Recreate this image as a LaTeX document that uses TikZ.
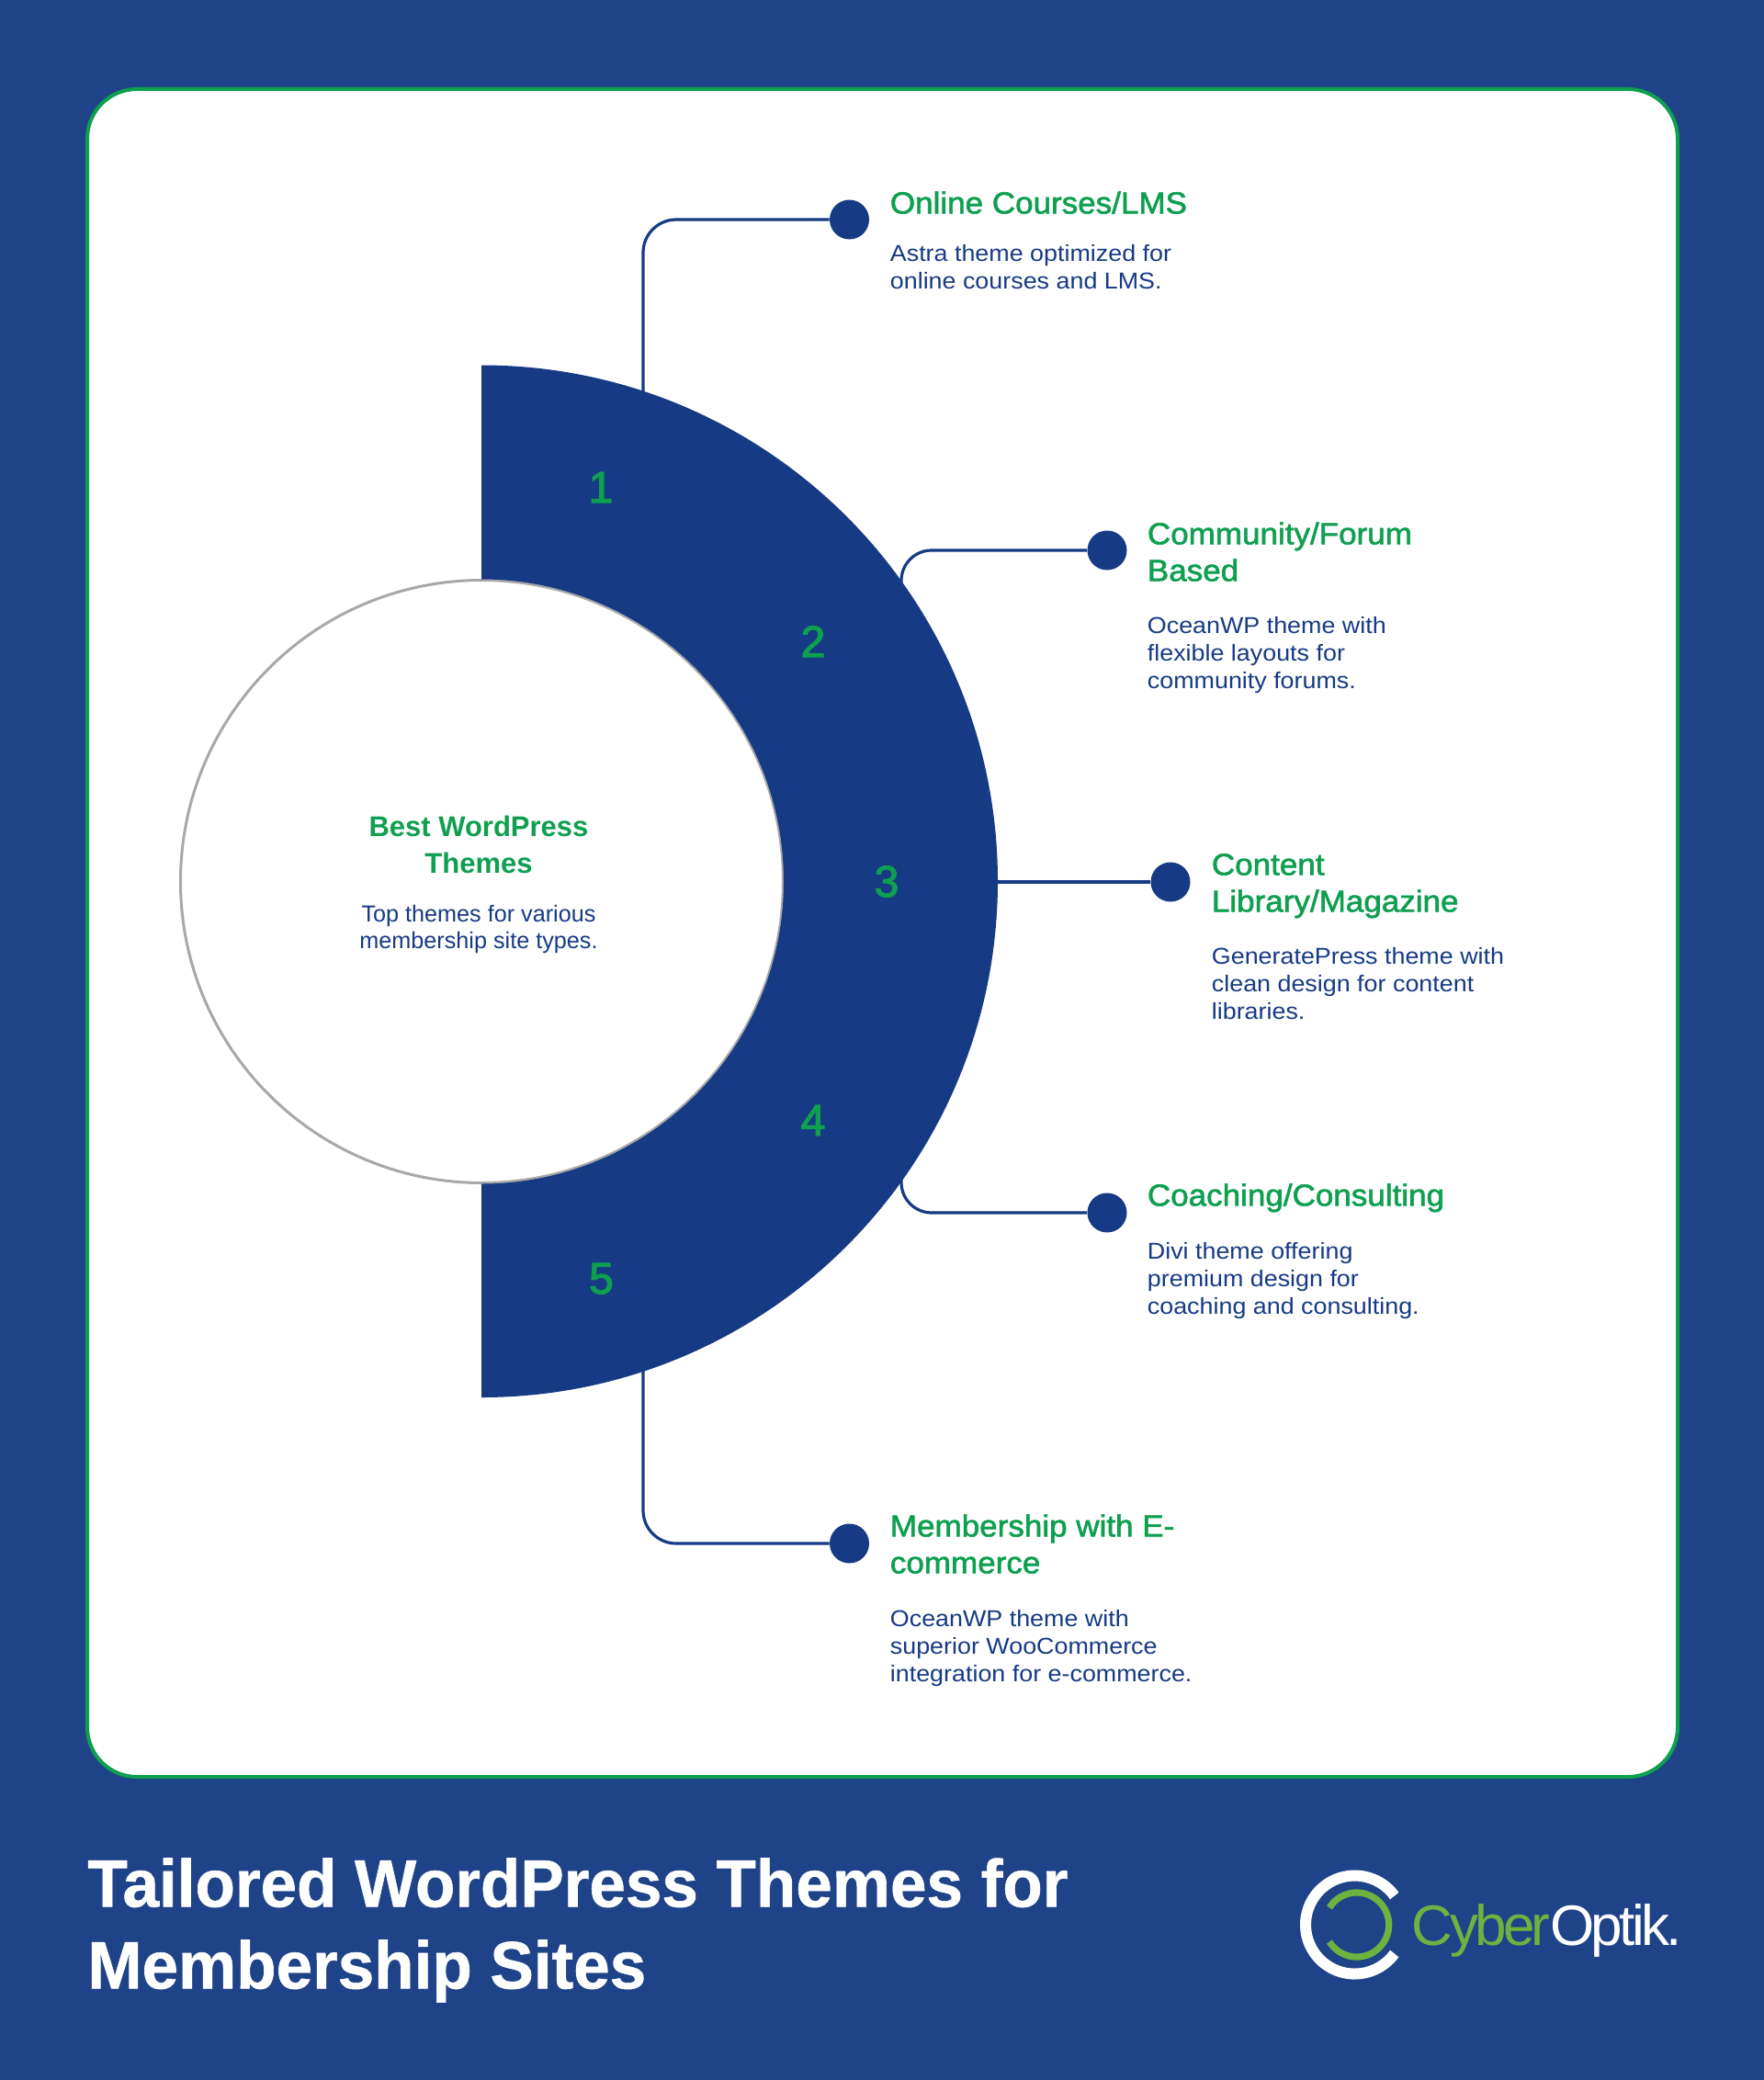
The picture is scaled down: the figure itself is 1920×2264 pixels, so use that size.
\documentclass[tikz,border=0pt]{standalone}
\usepackage{fontspec}
\usetikzlibrary{calc}
\setmainfont{Liberation Sans}
\newfontfamily\headfont[FakeBold=1.8,FakeStretch=1.055]{Liberation Sans}
\newfontfamily\numfont[FakeBold=2.5]{Liberation Sans}
\newfontfamily\descfont[FakeStretch=1.075]{Liberation Sans}
\newfontfamily\titlefont[BoldFeatures={FakeStretch=0.973,FakeBold=0.8}]{Liberation Sans}
\newfontfamily\logofont[LetterSpace=-6]{Liberation Sans}
\definecolor{bgblue}{HTML}{1F4389}
\definecolor{navy}{HTML}{163A84}
\definecolor{leaf}{HTML}{0E9F4F}
\definecolor{logogreen}{HTML}{6CB33F}
\definecolor{ringgray}{HTML}{A8A8A8}
\newcommand{\topfix}{\rule{0pt}{20pt}}
\tikzset{
  px/.style={x=0.5pt,y=-0.5pt},
  headtxt/.style={anchor=north west,inner sep=0pt,align=left,text=leaf,font=\headfont\fontsize{16.6}{20}\selectfont},
  desctxt/.style={anchor=north west,inner sep=0pt,align=left,text=navy,font=\descfont\fontsize{12.5}{15}\selectfont},
  numtxt/.style={anchor=base,inner sep=0pt,text=leaf,font=\numfont\fontsize{24}{28}\selectfont},
  dotnode/.style={circle,fill=navy,inner sep=0pt,minimum size=21.5pt},
  link/.style={draw=navy,line width=1.6pt},
}
\begin{document}
\begin{tikzpicture}[px]
\useasboundingbox (0,0) rectangle (1920,2264);
\fill[bgblue] (0,0) rectangle (1920,2264);
\draw[draw=leaf,fill=white,line width=2pt,rounded corners=27pt] (95,97) rectangle (1826,1934);
% centre circle
\node[circle,draw=ringgray,fill=white,line width=1.5pt,minimum size=328pt,inner sep=0pt] (hub) at (524.5,959.5) {};
% connector ends and dots
\coordinate (c1) at (700,440);
\coordinate (c2) at (981,640);
\coordinate (c3) at (1080,960);
\coordinate (c4) at (981,1278);
\coordinate (c5) at (700,1478);
\node[dotnode] (d1) at (924.5,239) {};
\node[dotnode] (d2) at (1205,599) {};
\node[dotnode] (d3) at (1274,960) {};
\node[dotnode] (d4) at (1205,1320) {};
\node[dotnode] (d5) at (924.5,1680) {};
\draw[link,rounded corners=18pt] (c1) |- (d1);
\draw[link,rounded corners=16.5pt] (c2) |- (d2);
\draw[link] (c3) -- (d3);
\draw[link,rounded corners=16.5pt] (c4) |- (d4);
\draw[link,rounded corners=18pt] (c5) |- (d5);
% half ring
\fill[navy] (524,397.5) arc[start angle=-90,end angle=90,x radius=562,y radius=561.75] -- (524,1288.5) arc[start angle=90,end angle=-90,radius=329] -- cycle;
% numbers
\node[numtxt] (n1) at (654,547) {1};
\node[numtxt] (n2) at (885,715) {2};
\node[numtxt] (n3) at (965,976) {3};
\node[numtxt] (n4) at (885,1236) {4};
\node[numtxt] (n5) at (654.5,1408) {5};
% centre text
\node[anchor=north,inner sep=0pt,align=center,text=leaf,font=\bfseries\fontsize{15.5}{20}\selectfont] (hubt) at (521,870) {\topfix Best WordPress\\Themes};
\node[anchor=north,inner sep=0pt,align=center,text=navy,font=\fontsize{12.6}{14.7}\selectfont] (hubd) at (521,963) {\topfix Top themes for various\\membership site types.};
% items
\node[headtxt] (h1) at (968.5,192) {\topfix Online Courses/LMS};
\node[desctxt] (t1) at (968.5,244) {\topfix Astra theme optimized for\\online courses and LMS.};
\node[headtxt] (h2) at (1248.5,552) {\topfix Community/Forum\\Based};
\node[desctxt] (t2) at (1248.5,649) {\topfix OceanWP theme with\\flexible layouts for\\community forums.};
\node[headtxt] (h3) at (1318.5,912) {\topfix Content\\Library/Magazine};
\node[desctxt] (t3) at (1318.5,1009) {\topfix GeneratePress theme with\\clean design for content\\libraries.};
\node[headtxt] (h4) at (1248.5,1272) {\topfix Coaching/Consulting};
\node[desctxt] (t4) at (1248.5,1330) {\topfix Divi theme offering\\premium design for\\coaching and consulting.};
\node[headtxt] (h5) at (968.5,1632) {\topfix Membership with E-\\commerce};
\node[desctxt] (t5) at (968.5,1730) {\topfix OceanWP theme with\\superior WooCommerce\\integration for e-commerce.};
% title
\node[anchor=north west,inner sep=0pt,align=left,text=white,font=\titlefont\bfseries\fontsize{36.5}{44.5}\selectfont] (title) at (95,1995) {\rule{0pt}{40pt}Tailored WordPress Themes for\\Membership Sites};
% logo
\coordinate (lc) at (1474.5,2095);
\coordinate (lg) at (1476.7,2095);
\draw[white,line width=6pt] ($(lc)+(-36:53.5)$) arc[start angle=-36,end angle=-324,radius=53.5];
\draw[logogreen,line width=3.6pt] ($(lg)+(-148:35)$) arc[start angle=-148,end angle=148,radius=35];
\node[anchor=base west,inner sep=0pt,font=\logofont\fontsize{31}{36}\selectfont] (logo) at (1536.5,2117) {\textcolor{logogreen}{Cyber}\textcolor{white}{Optik.}};
\end{tikzpicture}
\end{document}
